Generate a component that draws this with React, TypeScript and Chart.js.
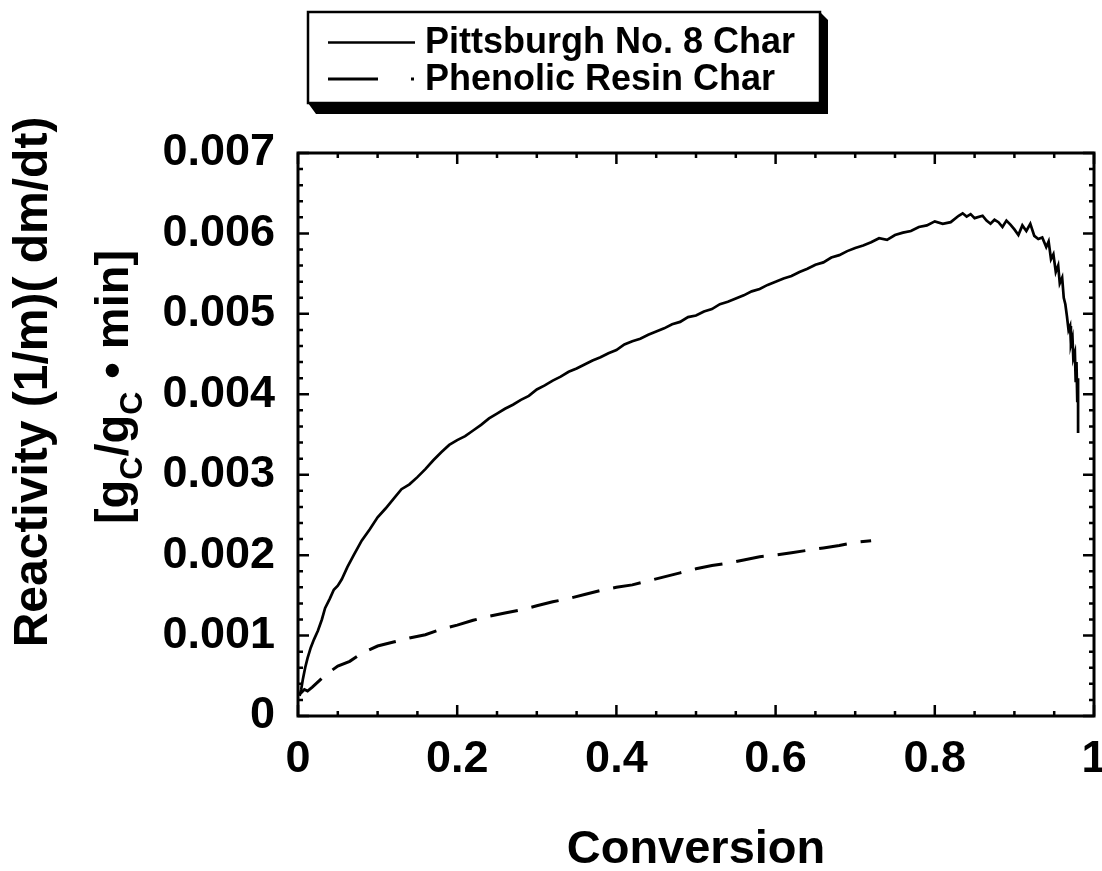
import React, { useEffect, useRef } from "react";
import { Chart, registerables } from "chart.js";

Chart.register(...registerables);

const FONT = '"Liberation Sans", Arial, Helvetica, sans-serif';

const seriesLabels = ["Pittsburgh No. 8 Char", "Phenolic Resin Char"];

const pittX = [
  0.002, 0.004, 0.006, 0.009, 0.012, 0.016, 0.02, 0.025, 0.03, 0.034, 0.04, 0.045, 0.05, 0.055, 0.062, 0.07,
  0.08, 0.09, 0.1, 0.11, 0.12, 0.13, 0.14, 0.15, 0.16, 0.17, 0.18, 0.19, 0.2, 0.21, 0.22, 0.23, 0.24, 0.25,
  0.26, 0.27, 0.28, 0.29, 0.3, 0.31, 0.32, 0.33, 0.34, 0.35, 0.36, 0.37, 0.38, 0.39, 0.4, 0.41, 0.42, 0.43,
  0.44, 0.45, 0.46, 0.47, 0.48, 0.49, 0.5, 0.51, 0.52, 0.53, 0.54, 0.55, 0.56, 0.57, 0.58, 0.59, 0.6, 0.61,
  0.62, 0.63, 0.64, 0.65, 0.66, 0.67, 0.68, 0.69, 0.7, 0.71, 0.72, 0.73, 0.74, 0.75, 0.76, 0.77, 0.78, 0.79,
  0.8, 0.81, 0.82, 0.83, 0.835, 0.84, 0.845, 0.85, 0.86, 0.865, 0.87, 0.875, 0.88, 0.885, 0.89, 0.895, 0.9,
  0.905, 0.91, 0.915, 0.92, 0.925, 0.93, 0.935, 0.94, 0.943, 0.946, 0.949, 0.952, 0.955, 0.957, 0.96, 0.962,
  0.964, 0.966, 0.968, 0.97, 0.971, 0.973, 0.974, 0.976, 0.977, 0.978, 0.979, 0.98, 0.98,
];
const pittY = [
  0.00025, 0.00033, 0.00045, 0.0006, 0.00072, 0.00085, 0.00095, 0.00106, 0.0012, 0.00134, 0.00146, 0.00157,
  0.00162, 0.0017, 0.00185, 0.002, 0.00218, 0.00232, 0.00247, 0.00258, 0.0027, 0.00282, 0.00288, 0.00297,
  0.00307, 0.00318, 0.00328, 0.00337, 0.00343, 0.00348, 0.00355, 0.00362, 0.0037, 0.00376, 0.00382, 0.00387,
  0.00393, 0.00398, 0.00406, 0.00411, 0.00417, 0.00422, 0.00428, 0.00432, 0.00437, 0.00442, 0.00446, 0.00451,
  0.00455, 0.00462, 0.00466, 0.00469, 0.00474, 0.00478, 0.00482, 0.00487, 0.0049, 0.00496, 0.00498, 0.00503,
  0.00506, 0.00512, 0.00515, 0.00519, 0.00523, 0.00528, 0.00531, 0.00536, 0.0054, 0.00544, 0.00547, 0.00552,
  0.00556, 0.00561, 0.00564, 0.0057, 0.00573, 0.00578, 0.00582, 0.00585, 0.00589, 0.00594, 0.00592, 0.00598,
  0.00601, 0.00603, 0.00608, 0.0061, 0.00615, 0.00612, 0.00614, 0.00622, 0.00625, 0.00621, 0.00624, 0.00619,
  0.00622, 0.00616, 0.00612, 0.00617, 0.00614, 0.00608, 0.00616, 0.00611, 0.00605, 0.00598, 0.0061, 0.00603,
  0.00612, 0.00597, 0.00593, 0.00595, 0.00583, 0.0059, 0.00568, 0.00574, 0.00552, 0.0056, 0.00538, 0.00545,
  0.0052, 0.00512, 0.00497, 0.0048, 0.00485, 0.00462, 0.0047, 0.00445, 0.00452, 0.00415, 0.0044, 0.0039,
  0.0042, 0.00352,
];

const phenX = [
  0.003, 0.008, 0.012, 0.018, 0.03, 0.04, 0.05, 0.065, 0.08, 0.1, 0.12, 0.14, 0.16, 0.18, 0.2, 0.22, 0.24,
  0.26, 0.28, 0.3, 0.32, 0.34, 0.36, 0.38, 0.4, 0.42, 0.44, 0.46, 0.48, 0.5, 0.52, 0.54, 0.56, 0.58, 0.6,
  0.62, 0.64, 0.66, 0.68, 0.7, 0.72,
];
const phenY = [
  0.00028, 0.00033, 0.00031, 0.00036, 0.00047, 0.00055, 0.00062, 0.00068, 0.00078, 0.00087, 0.00092, 0.00097,
  0.00101, 0.00108, 0.00113, 0.00119, 0.00124, 0.00128, 0.00132, 0.00137, 0.00142, 0.00146, 0.00151, 0.00156,
  0.0016, 0.00163, 0.00168, 0.00173, 0.00178, 0.00183, 0.00187, 0.0019, 0.00194, 0.00198, 0.002, 0.00203,
  0.00206, 0.00209, 0.00212, 0.00216, 0.00218,
];

const xTickLabels = ["0", "0.2", "0.4", "0.6", "0.8", "1"];
const yTickLabels = ["0", "0.001", "0.002", "0.003", "0.004", "0.005", "0.006", "0.007"];
const xTitle = "Conversion";
const yTitleLine1 = "Reactivity (1/m)( dm/dt)";
const yTitleLine2 = [
  { t: "[g", sub: false },
  { t: "C", sub: true },
  { t: "/g", sub: false },
  { t: "C", sub: true },
  { t: " \u2022 min]", sub: false },
];

const X_MAX = 1;
const Y_MAX = 0.007;

const framePlugin = {
  id: "frame",
  afterDatasetsDraw(chart: any) {
    const { ctx, chartArea: a, scales } = chart;
    const xs = scales.x;
    const ys = scales.y;
    ctx.save();
    ctx.strokeStyle = "#000";
    ctx.lineCap = "butt";
    ctx.lineWidth = 2.5;
    const majLen = 11;
    const minLen = 5;
    for (let i = 0; i <= 20; i++) {
      const v = (i * X_MAX) / 20;
      const px = xs.getPixelForValue(v);
      const len = i % 4 === 0 ? majLen : minLen;
      ctx.beginPath();
      ctx.moveTo(px, a.bottom);
      ctx.lineTo(px, a.bottom - len);
      ctx.moveTo(px, a.top);
      ctx.lineTo(px, a.top + len);
      ctx.stroke();
    }
    for (let i = 0; i <= 35; i++) {
      const v = (i * Y_MAX) / 35;
      const py = ys.getPixelForValue(v);
      const len = i % 5 === 0 ? majLen : minLen;
      ctx.beginPath();
      ctx.moveTo(a.left, py);
      ctx.lineTo(a.left + len, py);
      ctx.moveTo(a.right, py);
      ctx.lineTo(a.right - len, py);
      ctx.stroke();
    }
    ctx.lineWidth = 3;
    ctx.strokeRect(a.left, a.top, a.right - a.left, a.bottom - a.top);
    ctx.restore();
  },
  afterDraw(chart: any) {
    const { ctx } = chart;
    ctx.save();
    ctx.fillStyle = "#000";
    const big = 48;
    const small = 32;
    ctx.font = `bold ${big}px ${FONT}`;
    ctx.textBaseline = "alphabetic";
    ctx.save();
    ctx.translate(47, 382);
    ctx.rotate(-Math.PI / 2);
    ctx.textAlign = "center";
    ctx.fillText(yTitleLine1, 0, 0);
    ctx.restore();

    ctx.save();
    ctx.translate(128, 387);
    ctx.rotate(-Math.PI / 2);
    ctx.textAlign = "left";
    let total = 0;
    for (const p of yTitleLine2) {
      ctx.font = `bold ${p.sub ? small : 47}px ${FONT}`;
      total += ctx.measureText(p.t).width;
    }
    let cx = -total / 2;
    for (const p of yTitleLine2) {
      ctx.font = `bold ${p.sub ? small : 47}px ${FONT}`;
      ctx.fillText(p.t, cx, p.sub ? 14 : 0);
      cx += ctx.measureText(p.t).width;
    }
    ctx.restore();

    // Legend
    const L = 308, T = 12, R = 820, B = 103;
    ctx.beginPath();
    ctx.moveTo(L, B);
    ctx.lineTo(R, B);
    ctx.lineTo(R, T);
    ctx.lineTo(R + 8, T + 8);
    ctx.lineTo(R + 8, B + 11);
    ctx.lineTo(L + 8, B + 11);
    ctx.closePath();
    ctx.fill();
    ctx.fillStyle = "#fff";
    ctx.fillRect(L, T, R - L, B - T);
    ctx.strokeStyle = "#000";
    ctx.lineWidth = 2.5;
    ctx.strokeRect(L, T, R - L, B - T);

    ctx.fillStyle = "#000";
    ctx.lineWidth = 2.5;
    ctx.beginPath();
    ctx.moveTo(328, 42.5);
    ctx.lineTo(415, 42.5);
    ctx.stroke();
    ctx.setLineDash([50, 33]);
    ctx.lineWidth = 3;
    ctx.beginPath();
    ctx.moveTo(328, 79);
    ctx.lineTo(414, 79);
    ctx.stroke();
    ctx.setLineDash([]);
    ctx.font = `bold 36px ${FONT}`;
    ctx.textAlign = "left";
    ctx.textBaseline = "alphabetic";
    ctx.fillText(seriesLabels[0], 425, 53);
    ctx.fillText(seriesLabels[1], 425, 90);
    ctx.restore();
  },
};

export default function App() {
  const ref = useRef<HTMLCanvasElement>(null);
  useEffect(() => {
    if (!ref.current) return;
    const chart = new Chart(ref.current, {
      type: "line",
      data: {
        datasets: [
          {
            label: seriesLabels[0],
            data: pittX.map((x, i) => ({ x, y: pittY[i] })),
            borderColor: "#000",
            borderWidth: 2.7,
            pointRadius: 0,
            fill: false,
            tension: 0,
          },
          {
            label: seriesLabels[1],
            data: phenX.map((x, i) => ({ x, y: phenY[i] })),
            borderColor: "#000",
            borderWidth: 3,
            borderDash: [28, 14],
            pointRadius: 0,
            fill: false,
            tension: 0,
          },
        ],
      },
      options: {
        animation: false,
        responsive: false,
        events: [],
        layout: { padding: { top: 153, right: 8, left: 0, bottom: 0 } },
        plugins: { legend: { display: false }, tooltip: { enabled: false } },
        scales: {
          x: {
            type: "linear",
            min: 0,
            max: X_MAX,
            afterFit: (s: any) => {
              s.height = 155;
              s.paddingLeft = 0;
              s.paddingRight = 0;
            },
            grid: { display: false, drawTicks: false },
            border: { display: false },
            ticks: {
              stepSize: 0.2,
              padding: 21,
              color: "#000",
              font: { family: FONT, size: 45, weight: "bold", lineHeight: 1 },
              maxRotation: 0,
              callback: (v: any) => xTickLabels[Math.round(Number(v) / 0.2)] ?? "",
            },
            title: {
              display: true,
              text: xTitle,
              color: "#000",
              font: { family: FONT, size: 47, weight: "bold", lineHeight: 0.8 },
              padding: { top: 0, bottom: 2 },
            },
          },
          y: {
            type: "linear",
            min: 0,
            max: Y_MAX,
            afterFit: (s: any) => {
              s.width = 298;
              s.paddingTop = 0;
              s.paddingBottom = 0;
            },
            grid: { display: false, drawTicks: false },
            border: { display: false },
            ticks: {
              stepSize: 0.001,
              padding: 23,
              color: "#000",
              font: { family: FONT, size: 45, weight: "bold", lineHeight: 1 },
              callback: (v: any) => yTickLabels[Math.round(Number(v) / 0.001)] ?? "",
            },
          },
        },
      },
      plugins: [framePlugin],
    } as any);
    return () => chart.destroy();
  }, []);
  return (
    <div style={{ position: "absolute", left: 0, top: 0, width: 1102, height: 871, background: "#fff" }}>
      <canvas ref={ref} width={1102} height={871} style={{ display: "block", width: 1102, height: 871 }} />
    </div>
  );
}
